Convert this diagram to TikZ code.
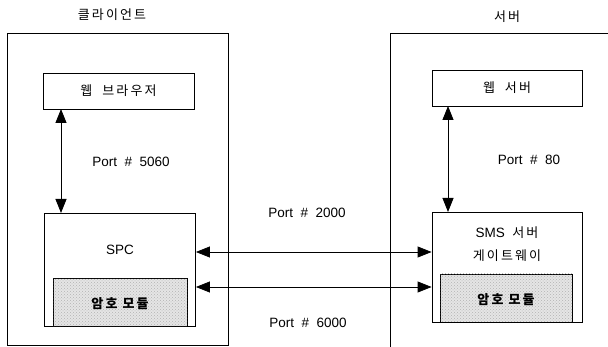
\documentclass[tikz,border=0pt]{standalone}
\usepackage{fontspec}
\setmainfont{Liberation Sans}
\newfontfamily\kr[LetterSpace=16]{Noto Sans CJK KR}
\usetikzlibrary{arrows.meta,patterns}
\begin{document}
\begin{tikzpicture}[x=1pt,y=-1pt,
  box/.style={draw, line width=0.8pt, inner sep=0pt},
  crypto/.style={draw, line width=0.9pt, inner sep=0pt, fill=black!10,
    postaction={pattern=crosshatch dots, pattern color=black!30}},
  lbl/.style={font=\fontsize{13.5}{16}\selectfont},
  krl/.style={font=\kr\fontsize{13}{15}\selectfont},
  krb/.style={font=\kr\bfseries\fontsize{13}{15}\selectfont},
  link/.style={line width=0.8pt, {Triangle[length=14pt,width=11pt]}-{Triangle[length=14pt,width=11pt]}}]
\useasboundingbox (0,0) rectangle (608,347);
\clip (0,0) rectangle (608,347);
% outer boxes
\node[box, minimum width=221pt, minimum height=312pt] (client) at (117.5,189) {};
\node[box, minimum width=240pt, minimum height=340pt] (server) at (510,203) {};
\node[krl] (ctitle) at (112,15) {클라이언트};
\node[krl] (stitle) at (507,17) {서버};
% client inner
\node[box, minimum width=151pt, minimum height=36pt, krl] (browser) at (118.5,91) {웹\ \ 브라우저};
\node[box, minimum width=151pt, minimum height=113pt] (spc) at (120,269.5) {};
\node[lbl] (spclbl) at (120,250) {SPC};
\node[crypto, minimum width=134pt, minimum height=48pt] (ccrypt) at (120,302.5) {};
\node[krb] (ccryptl) at (120,304) {암호\ 모듈};
% server inner
\node[box, minimum width=150pt, minimum height=36pt, krl] (web) at (507,88) {웹\ \ 서버};
\node[box, minimum width=150pt, minimum height=110pt] (sms) at (507,267) {};
\node[krl] (smsl1) at (507,233) {\fontspec{Liberation Sans}\fontsize{13.5}{16}\selectfont SMS\ \ \kr\fontsize{13}{15}\selectfont 서버};
\node[krl] (smsl2) at (507,256) {게이트웨이};
\node[crypto, minimum width=132pt, minimum height=48pt] (scrypt) at (506,298) {};
\node[krb] (scryptl) at (506,300) {암호\ 모듈};
% connectors
\coordinate (a1) at (61,109);
\coordinate (a2) at (61,213);
\draw[link] (a1) -- (a2);
\coordinate (b1) at (448,106);
\coordinate (b2) at (448,212);
\draw[link] (b1) -- (b2);
\draw[link] (spc.east |- 0,252) -- (sms.west |- 0,252);
\draw[link] (spc.east |- 0,287) -- (sms.west |- 0,287);
% port labels
\node[lbl] (p5060) at (131,162) {Port\ \ \#\ \ 5060};
\node[lbl] (p80) at (529,160) {Port\ \ \#\ \ 80};
\node[lbl] (p2000) at (307,213) {Port\ \ \#\ \ 2000};
\node[lbl] (p6000) at (308,323) {Port\ \ \#\ \ 6000};
\end{tikzpicture}
\end{document}
